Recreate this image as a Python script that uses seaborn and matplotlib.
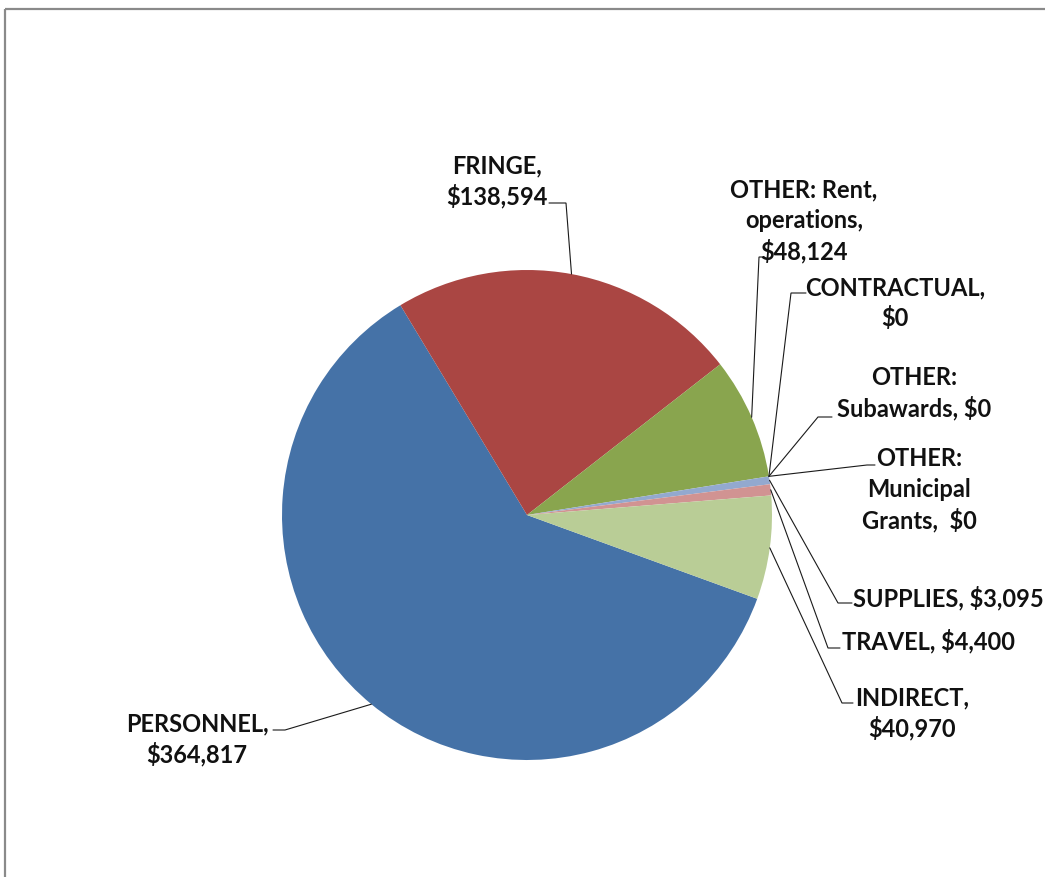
import numpy as np
import pandas as pd
import matplotlib
matplotlib.use("Agg")
import matplotlib.pyplot as plt
from matplotlib.lines import Line2D
import seaborn as sns

# Budget categories, amounts (USD) and slice colours
categories = ["PERSONNEL", "FRINGE", "OTHER: Rent, operations", "CONTRACTUAL",
              "OTHER: Subawards", "OTHER: Municipal Grants", "SUPPLIES", "TRAVEL", "INDIRECT"]
amounts = [364817, 138594, 48124, 0, 0, 0, 3095, 4400, 40970]
slice_colors = ["#4572A7", "#AA4643", "#89A54E", "#71588F", "#4198AF",
                "#DB843D", "#93A9CF", "#D19392", "#B9CD96"]

# Label text, one entry per line; {v} is replaced by the formatted amount
label_templates = [
    ["PERSONNEL,", "{v}"],
    ["FRINGE,", "{v}"],
    ["OTHER: Rent,", "operations,", "{v}"],
    ["CONTRACTUAL,", "{v}"],
    ["OTHER:", "Subawards, {v}"],
    ["OTHER:", "Municipal", "Grants,  {v}"],
    ["SUPPLIES, {v}"],
    ["TRAVEL, {v}"],
    ["INDIRECT,", "{v}"],
]

# Label placement in canvas pixels (y measured downward from the top):
# text centre x, first baseline y, leader elbow point, leader tail x
label_x = [197, 497, 804, 895, 914, 919, 948, 929, 912]
label_base = [731, 173, 197, 295, 385, 466, 606, 649, 705]
elbow_xy = [(285, 730), (566, 203), (759, 257), (791, 293), (818, 417),
            (867, 465), (838, 603), (828, 648), (842, 703)]
tail_x = [273, 549, 764, 806, 832, 875, 852, 840, 853]
LINE_STEP = 31

W, H = 1045, 877
PIE_CENTER = (527, 515)
PIE_RADIUS = 245

df = pd.DataFrame({"category": categories, "amount": amounts, "color": slice_colors})

sns.set_theme(style="white")
plt.rcParams["font.family"] = ["Lato", "DejaVu Sans"]

fig = plt.figure(figsize=(W / 100, H / 100), dpi=100)
ax = fig.add_axes([0, 0, 1, 1])


def px(x, y):
    return x, H - y


palette = sns.color_palette(df["color"].tolist())
wedges, _ = ax.pie(df["amount"], colors=palette, startangle=-20, counterclock=False,
                   radius=PIE_RADIUS, center=px(*PIE_CENTER),
                   wedgeprops=dict(linewidth=0))

ax.set_xlim(0, W)
ax.set_ylim(0, H)
ax.set_aspect("equal")
ax.axis("off")

cx, cy = px(*PIE_CENTER)
for i, w in enumerate(wedges):
    mid = np.deg2rad((w.theta1 + w.theta2) / 2)
    sx, sy = cx + PIE_RADIUS * np.cos(mid), cy + PIE_RADIUS * np.sin(mid)
    ex, ey = px(*elbow_xy[i])
    tx = tail_x[i]
    ax.plot([sx, ex, tx], [sy, ey, ey], color="#1a1a1a", lw=0.8,
            solid_joinstyle="miter", zorder=3)

    value_text = "${:,}".format(df["amount"].iloc[i])
    for k, line in enumerate(label_templates[i]):
        ax.text(label_x[i], H - (label_base[i] + k * LINE_STEP), line.format(v=value_text),
                ha="center", va="baseline", fontsize=17, fontweight="bold",
                color="#111111", zorder=4)

# Chart-area frame along the top and left
border = dict(color="#8a8a8a", lw=1.6, solid_capstyle="butt")
fig.add_artist(Line2D([5 / W, 5 / W], [0, 1 - 9 / H], transform=fig.transFigure, **border))
fig.add_artist(Line2D([5 / W, 1], [1 - 9 / H, 1 - 9 / H], transform=fig.transFigure, **border))

fig.savefig("out.png", dpi=100, facecolor="white")
